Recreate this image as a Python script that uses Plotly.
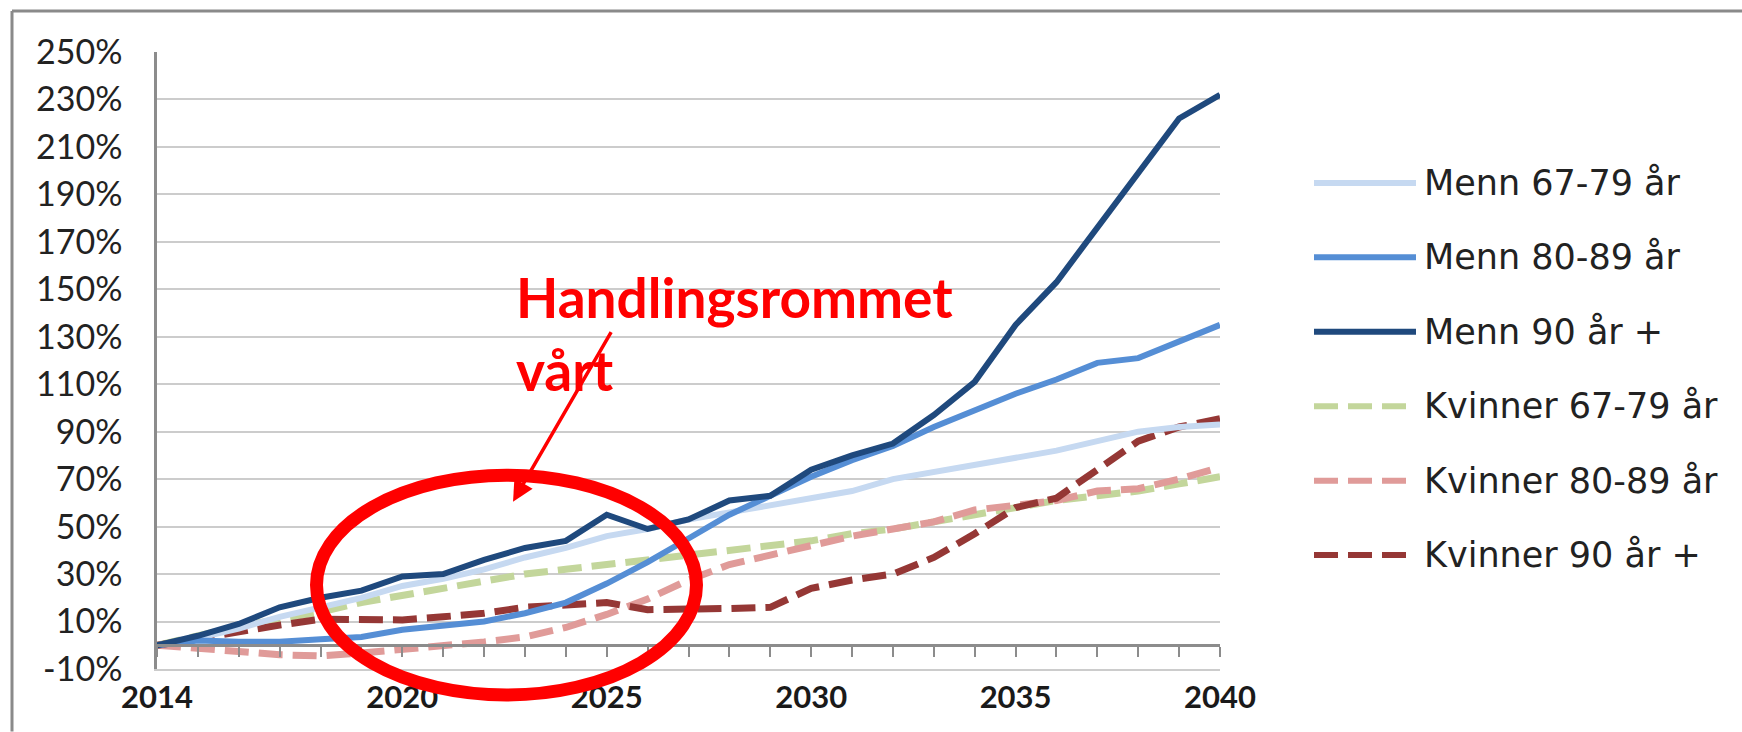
import plotly.graph_objects as go

years = list(range(2014, 2041))

series_names = ["Menn 67-79 år", "Menn 80-89 år", "Menn 90 år +",
                "Kvinner 67-79 år", "Kvinner 80-89 år", "Kvinner 90 år +"]

menn_67_79 = [0, 3, 7, 12, 16, 20, 25, 28, 32, 37, 41, 46, 49, 53, 56, 59, 62, 65, 70, 73, 76, 79, 82, 86, 90, 92, 93]
menn_80_89 = [0, 2, 1.5, 1.5, 2.5, 3.5, 6.5, 8.5, 10, 13.5, 18, 26, 35, 45, 55, 63, 71, 78, 84, 92, 99, 106, 112, 119, 121, 128, 135]
menn_90 = [0, 4, 9, 16, 20, 23, 29, 30, 36, 41, 44, 55, 49, 53, 61, 63, 74, 80, 85, 97, 111, 135, 153, 176, 199, 222, 232]
kvinner_67_79 = [0, 4, 8, 11, 14, 18, 21, 24, 27, 30, 32, 34, 36, 38, 40, 42, 44, 47, 49, 52, 55, 58, 61, 63, 65, 68, 71]
kvinner_80_89 = [0, -1, -2.6, -4, -4.5, -3.3, -1.9, -0.4, 1.4, 3.5, 7.5, 13, 19.5, 27.5, 34, 38, 42, 46, 49, 52, 57, 59, 61, 65, 66, 70, 75]
kvinner_90 = [0, 3, 6, 8.5, 11, 11, 10.7, 12, 13.5, 16, 17, 18, 15, 15, 15.5, 16, 24, 27.5, 30, 37, 47, 58, 62, 74, 86, 92, 95.5]

series_values = [menn_67_79, menn_80_89, menn_90, kvinner_67_79, kvinner_80_89, kvinner_90]
colors = ["#c6d9f1", "#558ed5", "#1f497d", "#c3d69b", "#e09b99", "#953735"]
dashes = ["solid", "solid", "solid", "24px,10px", "24px,10px", "24px,10px"]
widths = [6, 6, 6, 7, 7, 7]

y_ticks = list(range(-10, 251, 20))
x_label_years = [2014, 2020, 2025, 2030, 2035, 2040]

annotation_line1 = "Handlingsrommet"
annotation_line2 = "vårt"

W, H = 1742, 732
ML, MR, MT, MB = 157, 522, 52, 62.5
PW = W - ML - MR
PH = H - MT - MB


def px(xp):
    return (xp - ML) / PW


def py(yp):
    return (H - MB - yp) / PH


fig = go.Figure()

order = [3, 4, 5, 0, 1, 2]
for i in order:
    fig.add_trace(go.Scatter(
        x=years, y=series_values[i], mode="lines", name=series_names[i],
        line=dict(color=colors[i], width=widths[i], dash=dashes[i]),
        showlegend=False, xaxis="x", yaxis="y",
    ))

fig.add_trace(go.Scatter(x=[years[0], years[-1]], y=[None, None], xaxis="x2", yaxis="y",
                         showlegend=False, hoverinfo="skip"))

fig.update_layout(
    width=W, height=H,
    margin=dict(l=ML, r=MR, t=MT, b=MB),
    paper_bgcolor="white", plot_bgcolor="white",
    showlegend=False,
    xaxis=dict(
        range=[2014, 2040], tickvals=x_label_years, ticktext=[str(v) for v in x_label_years],
        showgrid=False, zeroline=False, showline=True, linecolor="#cccccc", linewidth=2,
        ticks="", tickfont=dict(family="Lato", size=31, color="#1a1a1a", weight="bold"),
        ticklabelstandoff=0,
    ),
    xaxis2=dict(
        range=[2014, 2040], overlaying="x", anchor="free", position=10 / 260,
        showgrid=False, zeroline=False, showline=True, linecolor="#8c8c8c", linewidth=2.5,
        ticks="outside", ticklen=10, tickwidth=2, tickcolor="#8c8c8c", dtick=1, tick0=2014,
        showticklabels=False,
    ),
    yaxis=dict(
        range=[-10, 250], tickvals=y_ticks, ticktext=[f"{v}%" for v in y_ticks],
        showgrid=True, gridcolor="#cccccc", gridwidth=2, zeroline=False,
        showline=True, linecolor="#8c8c8c", linewidth=2.5, ticks="",
        tickfont=dict(family="Lato", size=34, color="#222222"),
        ticklabelstandoff=25,
    ),
)

shapes = []
shapes.append(dict(type="line", xref="paper", yref="paper", x0=px(12), x1=px(W), y0=py(11), y1=py(11),
                   line=dict(color="#8a8a8a", width=3), layer="above"))
shapes.append(dict(type="line", xref="paper", yref="paper", x0=px(12), x1=px(12), y0=py(11), y1=py(H),
                   line=dict(color="#8a8a8a", width=3), layer="above"))

leg_y0 = 183
leg_dy = 74.5
annotations = []
for i, name in enumerate(series_names):
    yy = leg_y0 + i * leg_dy
    x_end = 1416 if dashes[i] == "solid" else 1406
    shapes.append(dict(type="line", xref="paper", yref="paper", x0=px(1314), x1=px(x_end),
                       y0=py(yy), y1=py(yy),
                       line=dict(color=colors[i], width=6, dash=dashes[i]), layer="above"))
    annotations.append(dict(text=name, xref="paper", yref="paper", x=px(1422), y=py(yy),
                            xanchor="left", yanchor="middle", showarrow=False,
                            font=dict(family="DejaVu Sans", size=35, color="#222222")))

shapes.append(dict(type="circle", xref="paper", yref="paper",
                   x0=px(316.5), x1=px(696.5), y0=py(695.5), y1=py(475.5),
                   line=dict(color="#ff0000", width=13), layer="above"))

annotations.append(dict(text=annotation_line1, xref="paper", yref="paper", x=px(514), y=py(297),
                        xanchor="left", yanchor="middle", showarrow=False,
                        font=dict(family="Lato", size=55, color="#ff0000", weight="bold")))
annotations.append(dict(text=annotation_line2, xref="paper", yref="paper", x=px(514), y=py(370),
                        xanchor="left", yanchor="middle", showarrow=False,
                        font=dict(family="Lato", size=55, color="#ff0000", weight="bold")))
annotations.append(dict(text="", xref="paper", yref="paper", x=px(513), y=py(502),
                        ax=99, ay=-171, axref="pixel", ayref="pixel", showarrow=True,
                        arrowhead=2, arrowsize=1.2, arrowwidth=3.5, arrowcolor="#ff0000"))

fig.update_layout(shapes=shapes, annotations=annotations)

fig.write_html("out.html", config={"displayModeBar": False},
               post_script="document.body.style.margin='0';document.body.style.overflow='hidden';")
